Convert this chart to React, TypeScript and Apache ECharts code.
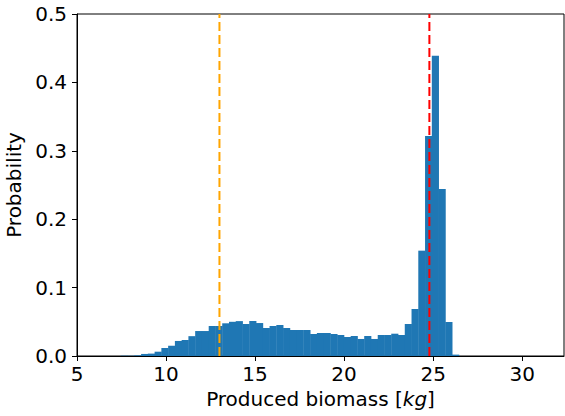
import React, { useEffect, useRef } from "react";
import * as echarts from "echarts";

// Histogram bins (edges start at binStart, each binWidth wide)
const binStart = 7.46;
const binWidth = 0.3797;
const probabilities = [
  0.0005, 0.0005, 0.001, 0.003, 0.0035, 0.0063, 0.0117, 0.015, 0.022, 0.0234,
  0.029, 0.0365, 0.0365, 0.0439, 0.0439, 0.0478, 0.05, 0.051, 0.0468, 0.0512,
  0.0482, 0.0409, 0.0439, 0.0453, 0.0409, 0.038, 0.038, 0.038, 0.0322, 0.0336,
  0.0336, 0.0322, 0.0307, 0.0278, 0.0292, 0.0249, 0.0292, 0.0249, 0.0307, 0.0307,
  0.0326, 0.0307, 0.0468, 0.0687, 0.154, 0.3216, 0.4389, 0.244, 0.0497, 0.002,
];
const orangeLineX = 13.0;
const redLineX = 24.79;
const xTicks = [5, 10, 15, 20, 25, 30];
const yTicks = [0, 0.1, 0.2, 0.3, 0.4, 0.5];
const xMin = 5;
const xMax = 32.35;

const FONT = "DejaVu Sans";
const FS = 20;

export default function App() {
  const ref = useRef<HTMLDivElement>(null);
  useEffect(() => {
    document.body.style.margin = "0";
    const chart = echarts.init(ref.current!, null, { renderer: "svg" });
    const histData = probabilities.map((p, i) => [
      binStart + i * binWidth,
      binStart + (i + 1) * binWidth,
      p,
    ]);
    chart.setOption({
      animation: false,
      grid: {
        left: 77,
        right: 1,
        top: 14,
        bottom: 60,
        containLabel: false,
        outerBoundsMode: "none",
        show: true,
        borderColor: "#000",
        borderWidth: 1,
        backgroundColor: "transparent",
      },
      xAxis: {
        type: "value",
        min: xMin,
        max: xMax,
        splitLine: { show: false },
        axisLine: { show: true, lineStyle: { color: "#000", width: 1 } },
        axisTick: {
          show: true,
          length: 5,
          lineStyle: { color: "#000" },
          customValues: xTicks,
        },
        axisLabel: {
          color: "#000",
          fontFamily: FONT,
          fontSize: FS,
          margin: 8,
          customValues: xTicks,
          formatter: (v: number) => String(v),
        },
        name: "{n|Produced biomass [}{i|kg}{n|]}",
        nameLocation: "middle",
        nameGap: 32,
        nameTextStyle: {
          rich: {
            n: { fontFamily: FONT, fontSize: FS, color: "#000" },
            i: { fontFamily: FONT, fontSize: FS, color: "#000", fontStyle: "italic" },
          },
        },
      },
      yAxis: {
        type: "value",
        min: 0,
        max: 0.5,
        interval: 0.1,
        splitLine: { show: false },
        axisLine: { show: true, lineStyle: { color: "#000", width: 1 } },
        axisTick: {
          show: true,
          length: 5,
          lineStyle: { color: "#000" },
          customValues: yTicks,
        },
        axisLabel: {
          color: "#000",
          fontFamily: FONT,
          fontSize: FS,
          margin: 10,
          customValues: yTicks,
          formatter: (v: number) => v.toFixed(1),
        },
        name: "Probability",
        nameLocation: "middle",
        nameGap: 49,
        nameRotate: 90,
        nameTextStyle: { fontFamily: FONT, fontSize: FS, color: "#000" },
      },
      series: [
        {
          type: "custom",
          data: histData,
          encode: { x: [0, 1], y: 2 },
          renderItem: (params: any, api: any) => {
            const s = api.coord([api.value(0), api.value(2)]);
            const e = api.coord([api.value(1), 0]);
            return {
              type: "rect",
              shape: { x: s[0], y: s[1], width: e[0] - s[0] + 0.4, height: e[1] - s[1] },
              style: { fill: "#1f77b4" },
            };
          },
          z: 2,
        },
        {
          type: "line",
          data: [
            [orangeLineX, 0],
            [orangeLineX, 0.5],
          ],
          showSymbol: false,
          symbol: "none",
          lineStyle: { color: "#ffa500", width: 2, type: [9, 4] },
          z: 5,
        },
        {
          type: "line",
          data: [
            [redLineX, 0],
            [redLineX, 0.5],
          ],
          showSymbol: false,
          symbol: "none",
          lineStyle: { color: "#ff0000", width: 2, type: [9, 4] },
          z: 5,
        },
      ],
    });
    return () => chart.dispose();
  }, []);
  return <div ref={ref} style={{ width: 565, height: 416 }} />;
}
